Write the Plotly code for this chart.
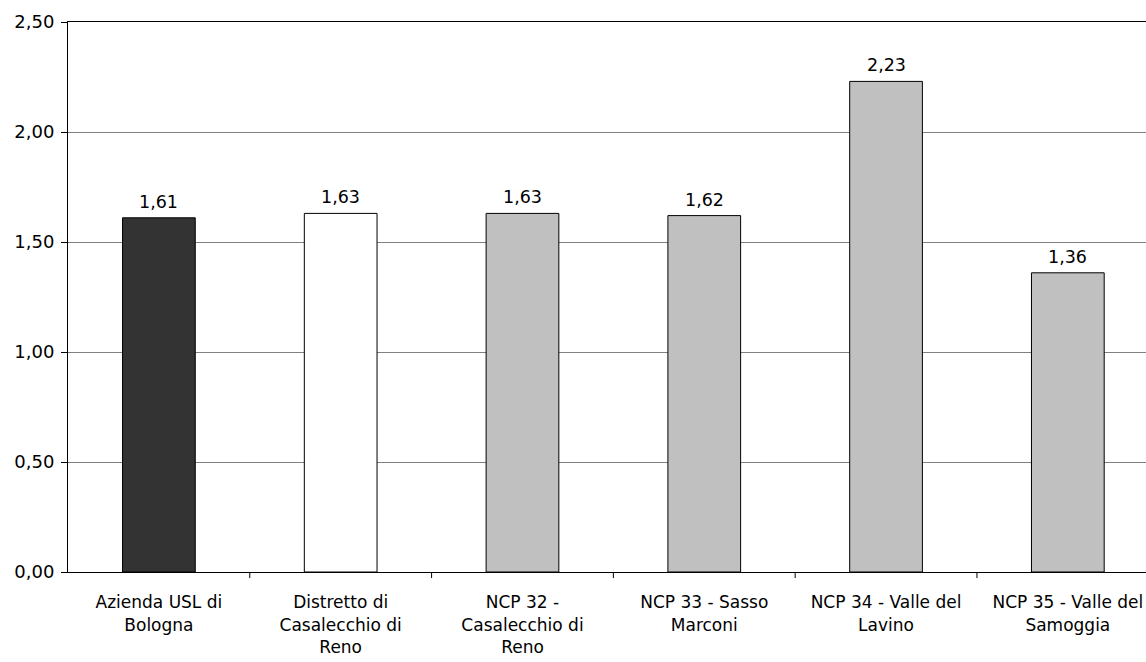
import plotly.graph_objects as go

categories = [
    "Azienda USL di<br>Bologna",
    "Distretto di<br>Casalecchio di<br>Reno",
    "NCP 32 -<br>Casalecchio di<br>Reno",
    "NCP 33 - Sasso<br>Marconi",
    "NCP 34 - Valle del<br>Lavino",
    "NCP 35 - Valle del<br>Samoggia",
]
values = [1.61, 1.63, 1.63, 1.62, 2.23, 1.36]
bar_colors = ["#333333", "#FFFFFF", "#C0C0C0", "#C0C0C0", "#C0C0C0", "#C0C0C0"]
y_ticks = [0, 0.5, 1.0, 1.5, 2.0, 2.5]

FONT = "DejaVu Sans"
x_pos = list(range(len(categories)))

fig = go.Figure(
    go.Bar(
        x=x_pos,
        y=values,
        marker=dict(color=bar_colors, line=dict(color="#000000", width=1)),
        width=0.4,
        hoverinfo="y",
    )
)

# Value labels above each bar (decimal comma)
for xi, v in zip(x_pos, values):
    fig.add_annotation(
        x=xi, y=v, xref="x", yref="y",
        text=f"{v:.2f}".replace(".", ","),
        showarrow=False,
        yanchor="bottom",
        yshift=4,
        font=dict(family=FONT, size=17.5, color="#000000"),
    )

fig.update_layout(
    width=1146,
    height=662,
    margin=dict(l=68, r=0, t=22, b=90),
    paper_bgcolor="#FFFFFF",
    plot_bgcolor="#FFFFFF",
    separators=",.",
    showlegend=False,
    font=dict(family=FONT, size=17.5, color="#000000"),
    xaxis=dict(
        tickmode="array",
        tickvals=x_pos,
        ticktext=categories,
        range=[-0.5, 5.43],
        showgrid=False,
        showline=True,
        linecolor="#000000",
        linewidth=1,
        mirror=True,
        ticks="",
        ticklabelstandoff=15,
        zeroline=False,
        tickfont=dict(family=FONT, size=17),
    ),
    yaxis=dict(
        range=[0, 2.5],
        tickmode="array",
        tickvals=y_ticks,
        tickformat=".2f",
        showgrid=True,
        gridcolor="#808080",
        gridwidth=1,
        showline=True,
        linecolor="#000000",
        linewidth=1,
        ticks="outside",
        ticklen=6,
        tickcolor="#000000",
        ticklabelstandoff=3,
        zeroline=False,
        tickfont=dict(family=FONT, size=18),
    ),
)

# Tick marks on the category boundaries
for b in [0.5, 1.5, 2.5, 3.5, 4.5]:
    fig.add_shape(
        type="line", xref="x", yref="paper",
        x0=b, x1=b, y0=0, y1=-0.011,
        line=dict(color="#000000", width=1),
    )

fig.write_html("out.html")
